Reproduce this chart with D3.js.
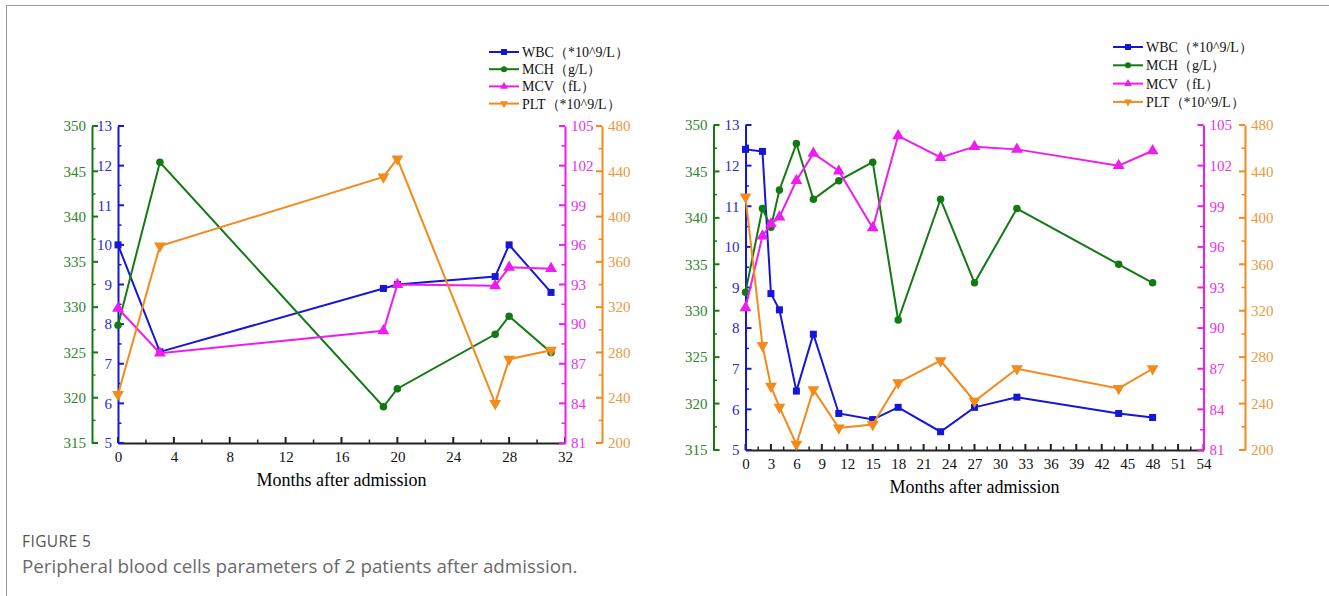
<!DOCTYPE html>
<html lang="en">
<meta charset="utf-8"/>
<head>
<script src="https://d3js.org/d3.v7.min.js"></script>
</head>
<style>
  body { margin: 0; background: #fff; }
  .axis-title { font-family: "Liberation Serif", "Times New Roman", serif; font-size: 18px; fill: #000; }
  .legend text { font-family: "Liberation Serif", "Times New Roman", serif; font-size: 14px; fill: #111; }
  .caption-head { font-family: "Open Sans", sans-serif; font-size: 15.5px; fill: #555; letter-spacing: 0.4px; }
  .caption { font-family: "Open Sans", sans-serif; font-size: 18.8px; fill: #6a6a6a; }
</style>
<body>
<script>
// series names and colours
var seriesNames = ["WBC（*10^9/L）", "MCH（g/L）", "MCV（fL）", "PLT（*10^9/L）"];
var seriesColors = ["#1616d8", "#137a13", "#ee1cee", "#f28a1c"];
var labelColors = ["#2a2ad0", "#2e852e", "#e632e6", "#e99a42"];
var markerTypes = ["square", "circle", "up", "down"];

// y axis ticks: WBC, MCH, MCV, PLT
var wbcTicks = [5, 6, 7, 8, 9, 10, 11, 12, 13];
var mchTicks = [315, 320, 325, 330, 335, 340, 345, 350];
var mcvTicks = [81, 84, 87, 90, 93, 96, 99, 102, 105];
var pltTicks = [200, 240, 280, 320, 360, 400, 440, 480];

// patient 1
var months1 = [0, 3, 19, 20, 27, 28, 31];
var wbc1 = [10.0, 7.3, 8.9, 9.0, 9.2, 10.0, 8.8];
var mch1 = [328, 346, 319, 321, 327, 329, 325];
var mcv1 = [91.2, 87.8, 89.5, 93.0, 92.9, 94.3, 94.2];
var plt1 = [243, 374, 435, 451, 235, 274, 282];
var xTicks1 = [0, 4, 8, 12, 16, 20, 24, 28, 32];

// patient 2
var months2 = [0, 2, 3, 4, 6, 8, 11, 15, 18, 23, 27, 32, 44, 48];
var wbc2 = [12.4, 12.35, 8.85, 8.45, 6.45, 7.85, 5.9, 5.75, 6.05, 5.45, 6.05, 6.3, 5.9, 5.8];
var mch2 = [332, 341, 339, 343, 348, 342, 344, 346, 329, 342, 333, 341, 335, 333];
var mcv2 = [91.5, 96.8, 97.7, 98.2, 100.9, 102.9, 101.6, 97.4, 104.2, 102.6, 103.4, 103.2, 102.0, 103.1];
var plt2 = [418, 290, 255, 237, 205, 252, 219, 222, 258, 277, 242, 270, 253, 270];
var xTicks2 = [0, 3, 6, 9, 12, 15, 18, 21, 24, 27, 30, 33, 36, 39, 42, 45, 48, 51, 54];

var serif = "'Liberation Serif', 'Times New Roman', serif";

var svg = d3.select("body").append("svg")
    .attr("width", 1329)
    .attr("height", 596);

// frame
svg.append("line").attr("x1", 6.5).attr("x2", 1329).attr("y1", 5.5).attr("y2", 5.5)
    .attr("stroke", "#999").attr("stroke-width", 1);
svg.append("line").attr("x1", 6.5).attr("x2", 6.5).attr("y1", 5.5).attr("y2", 596)
    .attr("stroke", "#999").attr("stroke-width", 1);

function marker(g, type, x, y, color, s) {
  if (type == "square") {
    g.append("rect").attr("x", x - s/2).attr("y", y - s/2).attr("width", s).attr("height", s).attr("fill", color);
  } else if (type == "circle") {
    g.append("circle").attr("cx", x).attr("cy", y).attr("r", s/2).attr("fill", color);
  } else {
    var sym = d3.symbol().type(d3.symbolTriangle).size(s*s*0.75);
    g.append("path").attr("d", sym())
      .attr("transform", "translate(" + x + "," + y + ")" + (type == "down" ? " rotate(180)" : ""))
      .attr("fill", color);
  }
}

// vertical axis with major + minor ticks pointing into the plot
function yAxis(g, scale, ticks, xPos, color, lcolor, tickDir, labelSide) {
  var minorStep = (ticks[1] - ticks[0]) / 2;
  var minors = [];
  for (var i = 0; i < ticks.length - 1; i++) minors.push(ticks[i] + minorStep);
  var axis = (labelSide == "left" ? d3.axisLeft(scale) : d3.axisRight(scale))
      .tickValues(ticks).tickSize(0).tickPadding(6);
  var ag = g.append("g").attr("transform", "translate(" + xPos + ",0)").call(axis);
  ag.select(".domain").attr("stroke", color).attr("stroke-width", 2);
  ag.selectAll("text").attr("fill", lcolor)
    .style("font-family", serif).style("font-size", "15px");
  ag.selectAll(".tick line").remove();
  ticks.forEach(function(t) {
    ag.append("line").attr("x1", 0).attr("x2", 6 * tickDir)
      .attr("y1", scale(t)).attr("y2", scale(t)).attr("stroke", color).attr("stroke-width", 2);
  });
  minors.forEach(function(t) {
    ag.append("line").attr("x1", 0).attr("x2", 3.5 * tickDir)
      .attr("y1", scale(t)).attr("y2", scale(t)).attr("stroke", color).attr("stroke-width", 1.5);
  });
}

function drawPanel(p) {
  var g = svg.append("g");
  var x = d3.scaleLinear().domain([p.xTicks[0], p.xTicks[p.xTicks.length - 1]]).range([p.left, p.right]);
  var yW = d3.scaleLinear().domain([wbcTicks[0], wbcTicks[wbcTicks.length-1]]).range([p.bottom, p.top]);
  var yM = d3.scaleLinear().domain([mchTicks[0], mchTicks[mchTicks.length-1]]).range([p.bottom, p.top]);
  var yV = d3.scaleLinear().domain([mcvTicks[0], mcvTicks[mcvTicks.length-1]]).range([p.bottom, p.top]);
  var yP = d3.scaleLinear().domain([pltTicks[0], pltTicks[pltTicks.length-1]]).range([p.bottom, p.top]);

  // x axis
  var xstep = (p.xTicks[1] - p.xTicks[0]) / 2;
  var xMinor = [];
  for (var i = 0; i < p.xTicks.length - 1; i++) xMinor.push(p.xTicks[i] + xstep);
  var xa = g.append("g").attr("transform", "translate(0," + p.bottom + ")")
    .call(d3.axisBottom(x).tickValues(p.xTicks).tickSize(0).tickPadding(8));
  xa.select(".domain").attr("stroke", "#222").attr("stroke-width", 2);
  xa.selectAll("text").attr("fill", "#111")
    .style("font-family", serif).style("font-size", "15px");
  p.xTicks.forEach(function(t) {
    xa.append("line").attr("x1", x(t)).attr("x2", x(t)).attr("y1", 0).attr("y2", -6).attr("stroke", "#222").attr("stroke-width", 2);
  });
  xMinor.forEach(function(t) {
    xa.append("line").attr("x1", x(t)).attr("x2", x(t)).attr("y1", 0).attr("y2", -3.5).attr("stroke", "#222").attr("stroke-width", 1.5);
  });
  g.append("text").attr("class", "axis-title").attr("text-anchor", "middle")
    .attr("x", (p.left + p.right) / 2).attr("y", p.bottom + 43).text("Months after admission");

  yAxis(g, yW, wbcTicks, p.left, seriesColors[0], labelColors[0], 1, "left");
  yAxis(g, yM, mchTicks, p.greenX, seriesColors[1], labelColors[1], 1, "left");
  yAxis(g, yV, mcvTicks, p.right, seriesColors[2], labelColors[2], -1, "right");
  yAxis(g, yP, pltTicks, p.orangeX, seriesColors[3], labelColors[3], -1, "right");

  var scales = [yW, yM, yV, yP];
  var series = [p.wbc, p.mch, p.mcv, p.plt];
  var sizes = [7, 7.5, 9, 9];
  series.forEach(function(vals, k) {
    var line = d3.line().x(function(d, i) { return x(p.months[i]); }).y(function(d) { return scales[k](d); });
    g.append("path").attr("d", line(vals)).attr("fill", "none")
      .attr("stroke", seriesColors[k]).attr("stroke-width", 2);
    vals.forEach(function(v, i) {
      marker(g, markerTypes[k], x(p.months[i]), scales[k](v), seriesColors[k], sizes[k]);
    });
  });

  // legend
  var lg = g.append("g").attr("class", "legend");
  seriesNames.forEach(function(n, k) {
    var yy = p.legY + k * p.legGap;
    lg.append("line").attr("x1", p.legX).attr("x2", p.legX + 30).attr("y1", yy).attr("y2", yy)
      .attr("stroke", seriesColors[k]).attr("stroke-width", 2);
    marker(lg, markerTypes[k], p.legX + 15, yy, seriesColors[k], 6);
    lg.append("text").attr("x", p.legX + 33).attr("y", yy).attr("dy", "0.35em").text(n);
  });
}

drawPanel({left: 118, right: 565, top: 126, bottom: 443, greenX: 92, orangeX: 602,
  months: months1, wbc: wbc1, mch: mch1, mcv: mcv1, plt: plt1, xTicks: xTicks1,
  legX: 489, legY: 52, legGap: 17.2});
drawPanel({left: 745.5, right: 1203.5, top: 125, bottom: 450, greenX: 713.5, orangeX: 1245,
  months: months2, wbc: wbc2, mch: mch2, mcv: mcv2, plt: plt2, xTicks: xTicks2,
  legX: 1113, legY: 47, legGap: 18.3});

// caption
svg.append("text").attr("class", "caption-head").attr("x", 22).attr("y", 547).text("FIGURE 5");
svg.append("text").attr("class", "caption").attr("x", 22).attr("y", 573)
  .text("Peripheral blood cells parameters of 2 patients after admission.");
</script>
</body>
</html>
